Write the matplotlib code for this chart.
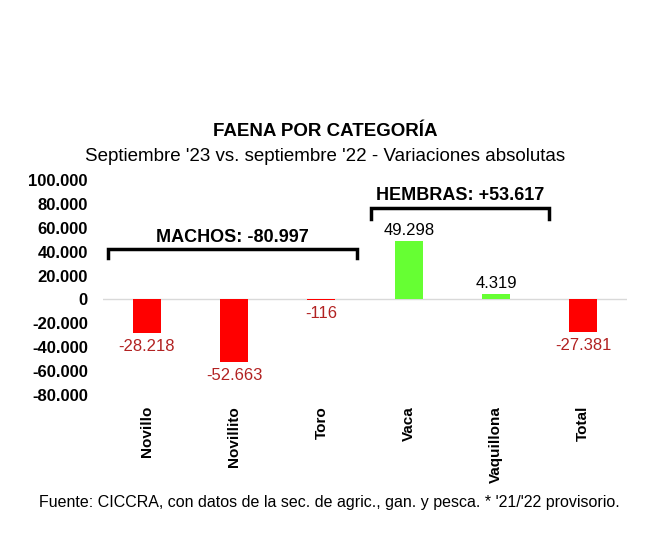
import matplotlib
matplotlib.use("Agg")
import matplotlib.pyplot as plt
from matplotlib.ticker import FuncFormatter

plt.rcParams['font.family'] = ['Liberation Sans', 'DejaVu Sans']

categories = ["Novillo", "Novillito", "Toro", "Vaca", "Vaquillona", "Total"]
values = [-28218, -52663, -116, 49298, 4319, -27381]
yticks = [-80000, -60000, -40000, -20000, 0, 20000, 40000, 60000, 80000, 100000]
machos_label = "MACHOS: -80.997"
hembras_label = "HEMBRAS: +53.617"

def fmt(v):
    s = f"{abs(int(v)):,}".replace(",", ".")
    return ("-" if v < 0 else "") + s

fig = plt.figure(figsize=(6.49, 5.33), dpi=100)
ax = fig.add_axes([0.159, 0.259, 0.807, 0.403])

colors = ["#FF0000" if v < 0 else "#66FF33" for v in values]
x = list(range(len(categories)))
ax.bar(x, values, width=0.32, color=colors, zorder=3)
ax.axhline(0, color="#D9D9D9", lw=1, zorder=2)

for xi, v in zip(x, values):
    if v < 0:
        ax.text(xi, v - 5000, fmt(v), ha="center", va="top", fontsize=12, color="#B22222")
    else:
        ax.text(xi, v + 2500, fmt(v), ha="center", va="bottom", fontsize=12, color="black")

ax.set_xlim(-0.5, len(categories) - 0.5)
ax.set_ylim(-80000, 100000)
ax.set_yticks(yticks)
ax.yaxis.set_major_formatter(FuncFormatter(lambda v, p: fmt(v)))
ax.set_xticks(x)
ax.set_xticklabels(categories, rotation=90, fontweight="bold", fontsize=11)
for lab in ax.get_yticklabels():
    lab.set_fontweight("bold")
    lab.set_fontsize(12)
ax.tick_params(axis="y", length=0, pad=11)
ax.tick_params(axis="x", length=0, pad=8)
for s in ax.spines.values():
    s.set_visible(False)

# brackets
def bracket(x0, x1, y, drop, label, ty):
    ax.plot([x0, x0, x1, x1], [y - drop, y, y, y - drop], color="black", lw=2.5,
            solid_joinstyle="miter", clip_on=False, zorder=4)
    ax.text((x0 + x1) / 2, ty, label, ha="center", va="bottom", fontsize=13,
            fontweight="bold", clip_on=False)

bracket(-0.45, 2.41, 42000, 7500, machos_label, 45000)
bracket(2.57, 4.61, 76500, 9000, hembras_label, 80000)

fig.text(0.501, 0.754, "FAENA POR CATEGORÍA", ha="center", va="center",
         fontsize=13.5, fontweight="bold")
fig.text(0.501, 0.707, "Septiembre '23 vs. septiembre '22 - Variaciones absolutas",
         ha="center", va="center", fontsize=13.5)
fig.text(0.508, 0.058, "Fuente: CICCRA, con datos de la sec. de agric., gan. y pesca. * '21/'22 provisorio.",
         ha="center", va="center", fontsize=11.5)

fig.savefig("out.png", dpi=100)
